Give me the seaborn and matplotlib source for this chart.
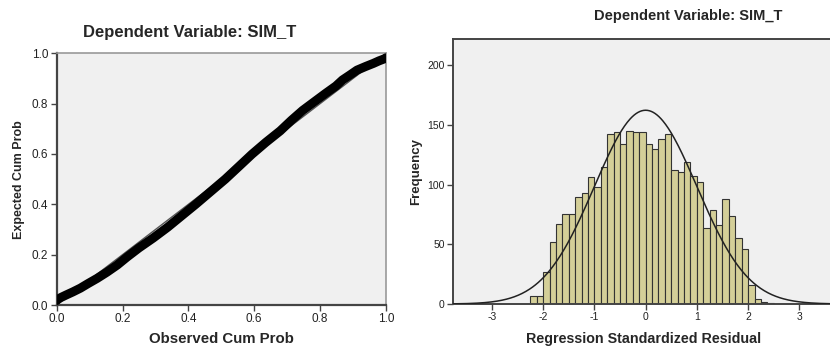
import numpy as np
import pandas as pd
import matplotlib
matplotlib.use("Agg")
import matplotlib.pyplot as plt
import seaborn as sns

# ---- data ----
# P-P plot of regression standardized residual
obs_cum = [0.000, 0.004, 0.013, 0.029, 0.049, 0.072, 0.095, 0.123, 0.152, 0.184,
           0.214, 0.250, 0.293, 0.337, 0.379, 0.423, 0.467, 0.512, 0.553, 0.593,
           0.635, 0.679, 0.713, 0.747, 0.784, 0.817, 0.848, 0.868, 0.892, 0.912,
           0.939, 0.962, 0.979, 0.993, 0.998, 1.000]
exp_cum = [0.018, 0.023, 0.030, 0.040, 0.052, 0.067, 0.085, 0.106, 0.130, 0.159,
           0.191, 0.227, 0.266, 0.309, 0.354, 0.401, 0.450, 0.500, 0.550, 0.599,
           0.646, 0.692, 0.734, 0.773, 0.809, 0.841, 0.870, 0.894, 0.915, 0.933,
           0.948, 0.960, 0.970, 0.977, 0.980, 0.982]

# histogram of residuals (bin width 0.125, first bin starts at -2.25)
bin_left = -2.25
bin_width = 0.125
counts = [7, 7, 27, 52, 67, 75, 75, 90, 93, 106, 98, 115, 142, 144, 134, 145, 144, 144,
          134, 130, 138, 142, 112, 111, 119, 107, 102, 64, 79, 66, 88, 74, 55, 46,
          16, 4, 2, 1]
res_mean = 0.0
res_sd = 1.0
title = "Dependent Variable: SIM_T"

bin_right = bin_left + bin_width * len(counts)
centers = bin_left + bin_width * (np.arange(len(counts)) + 0.5)
hist_df = pd.DataFrame({"resid": centers, "n": counts})
n_total = sum(counts)

sns.set_style("ticks")
plt.rcParams["font.family"] = ["Liberation Sans", "DejaVu Sans"]
plt.rcParams["axes.facecolor"] = "#f0f0f0"
plt.rcParams["axes.unicode_minus"] = False

fig = plt.figure(figsize=(8.3, 3.47), dpi=100)
ax1 = fig.add_axes([0.0683, 0.121, 0.3967, 0.7254])
ax2 = fig.add_axes([0.5458, 0.1239, 0.458, 0.7637])

# ---- left: normal P-P plot ----
ax1.plot([0, 1], [0, 1], color="#555555", lw=1.0, zorder=2)
pp_df = pd.DataFrame({"obs": obs_cum, "exp": exp_cum})
sns.lineplot(data=pp_df, x="obs", y="exp", ax=ax1, color="black", lw=6.5,
             solid_capstyle="round", zorder=3)
ax1.set_xlim(0, 1)
ax1.set_ylim(0, 1)
ticks01 = np.arange(0, 1.01, 0.2)
ax1.set_xticks(ticks01)
ax1.set_yticks(ticks01)
ax1.set_xticklabels([f"{v:.1f}" for v in ticks01])
ax1.set_yticklabels([f"{v:.1f}" for v in ticks01])
ax1.set_xlabel("Observed Cum Prob", fontsize=10.8, fontweight="bold", labelpad=5)
ax1.set_ylabel("Expected Cum Prob", fontsize=9, fontweight="bold", labelpad=5,
               family=["Liberation Sans Narrow", "Liberation Sans"])
for s in ["left", "bottom"]:
    ax1.spines[s].set_color("#444444")
    ax1.spines[s].set_linewidth(1.6)
for s in ["top", "right"]:
    ax1.spines[s].set_visible(True)
    ax1.spines[s].set_color("#999999")
    ax1.spines[s].set_linewidth(1.2)

# ---- right: histogram with normal curve ----
sns.histplot(data=hist_df, x="resid", weights="n", binwidth=bin_width,
             binrange=(bin_left, bin_right), ax=ax2,
             color="#d4cf98", edgecolor="#333333", linewidth=0.8, alpha=1.0, zorder=2)
xs = np.linspace(-3.76, 3.7, 400)
curve = n_total * bin_width / (res_sd * np.sqrt(2 * np.pi)) * np.exp(-0.5 * ((xs - res_mean) / res_sd) ** 2)
sns.lineplot(x=xs, y=curve, ax=ax2, color="#222222", lw=1.1, zorder=3)
ax2.set_xlim(-3.76, 3.66)
ax2.set_ylim(0, 222)
ax2.set_xticks([-3, -2, -1, 0, 1, 2, 3])
ax2.set_yticks([0, 50, 100, 150, 200])
ax2.set_xlabel("Regression Standardized Residual", fontsize=10.3, fontweight="bold", labelpad=7)
ax2.set_ylabel("Frequency", fontsize=9.5, fontweight="bold", labelpad=4,
               family=["Liberation Sans Narrow", "Liberation Sans"])
for s in ["left", "bottom", "top"]:
    ax2.spines[s].set_visible(True)
    ax2.spines[s].set_color("#444444")
    ax2.spines[s].set_linewidth(1.4)
ax2.spines["right"].set_visible(False)

ax1.tick_params(direction="out", length=4, width=1, color="#444444",
                labelsize=8.5, pad=2, labelcolor="#222222")
ax2.tick_params(direction="out", length=4, width=1, color="#444444",
                labelsize=7.5, pad=2, labelcolor="#222222")
for ax in (ax1, ax2):
    ax.grid(False)

fig.text(190 / 830, 1 - 32 / 347, title, ha="center", va="center",
         fontsize=12, fontweight="bold")
fig.text(688 / 830, 1 - 16 / 347, title, ha="center", va="center",
         fontsize=10.5, fontweight="bold")

fig.savefig("out.png", dpi=100, facecolor="white")
